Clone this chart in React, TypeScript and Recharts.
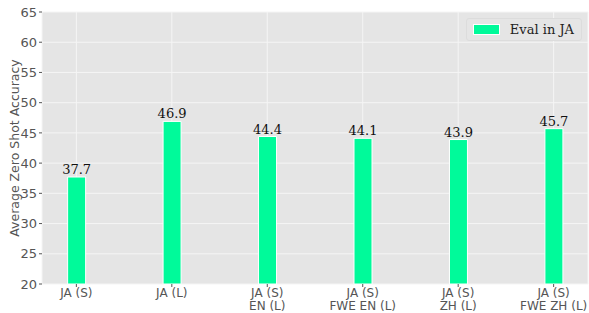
import { BarChart, Bar, XAxis, YAxis, CartesianGrid, LabelList } from 'recharts';

// Названия категорий (строки подписи через \n), значения серии, деления оси Y
const categories = ['JA (S)', 'JA (L)', 'JA (S)\nEN (L)', 'JA (S)\nFWE EN (L)', 'JA (S)\nZH (L)', 'JA (S)\nFWE ZH (L)'];
const evalJa = [37.7, 46.9, 44.4, 44.1, 43.9, 45.7];
const yTicks = [20, 25, 30, 35, 40, 45, 50, 55, 60, 65];

const data = categories.map((c, i) => ({ idx: i, name: c, value: evalJa[i] }));

const BAR = '#00FA9A';
const TEXT = '#555555';
const SANS = '"DejaVu Sans", sans-serif';
const SERIF = '"DejaVu Serif", serif';

function CatTick({ x, y, payload }: any) {
  const lines = categories[payload.value]?.split('\n') ?? [];
  return (
    <text x={x} y={y} textAnchor="middle" fill={TEXT} fontSize={12} fontFamily={SANS}>
      {lines.map((l, i) => (
        <tspan key={i} x={x} dy={i === 0 ? 8 : 12.5}>{l}</tspan>
      ))}
    </text>
  );
}

// Легенда вне графика, чтобы не сдвигала область построения
function LegendBox() {
  return (
    <div style={{
      position: 'absolute', top: 18, right: 7,
      display: 'flex', alignItems: 'center', gap: 10,
      background: '#E5E5E5', border: '1px solid #DCDCDC', borderRadius: 3,
      padding: '3px 7px 3px 6px',
    }}>
      <span style={{ width: 25, height: 9, background: BAR, border: '1px solid #fff', display: 'inline-block' }} />
      <span style={{ fontFamily: SERIF, fontSize: 13, color: '#222' }}>Eval in JA</span>
    </div>
  );
}

export default function App() {
  return (
    <div style={{ position: 'absolute', left: 0, top: 0, width: 589, height: 313, background: '#fff' }}>
      <BarChart width={589} height={313} data={data} margin={{ top: 12, right: 1, left: 0, bottom: 0 }}>
        <CartesianGrid fill="#E5E5E5" stroke="#F5F5F5" strokeWidth={1} />
        <XAxis
          dataKey="idx"
          type="number"
          domain={[-0.36, 5.36]}
          ticks={[0, 1, 2, 3, 4, 5]}
          allowDataOverflow
          height={29}
          axisLine={false}
          tickLine={{ stroke: TEXT }}
          tickSize={3}
          tick={<CatTick />}
        />
        <YAxis
          domain={[20, 65]}
          ticks={yTicks}
          width={42}
          axisLine={false}
          tickLine={{ stroke: TEXT }}
          tickSize={3}
          tickMargin={2}
          tick={{ fill: TEXT, fontSize: 13, fontFamily: SANS }}
          label={{
            value: 'Average Zero Shot Accuracy', angle: -90, position: 'insideLeft',
            offset: 0, dx: 15, fill: TEXT, fontSize: 12.5, fontFamily: SANS, style: { textAnchor: 'middle' },
          }}
        />
        <Bar dataKey="value" name="Eval in JA" fill={BAR} stroke="#fff" strokeWidth={1} barSize={18} isAnimationActive={false}>
          <LabelList dataKey="value" position="top" offset={3} fill="#111" fontSize={13} fontFamily={SERIF} />
        </Bar>
      </BarChart>
      <LegendBox />
    </div>
  );
}
